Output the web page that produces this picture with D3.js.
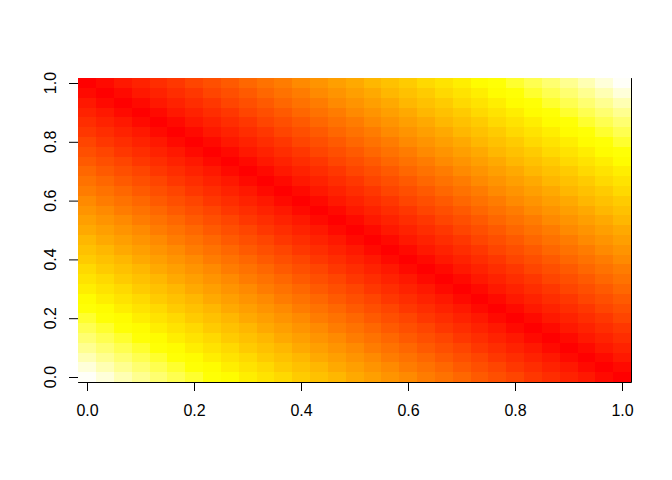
<!DOCTYPE html>
<html>
<head>
<meta charset="utf-8">
<script src="https://cdn.jsdelivr.net/npm/d3@7"></script>
<style>
html,body{margin:0;padding:0;background:#fff}
svg{display:block}
text{font-family:"Liberation Sans",Arial,sans-serif;fill:#000}
</style>
</head>
<body>
<script>
const xTicks = [0, 0.2, 0.4, 0.6, 0.8, 1];
const yTicks = [0, 0.2, 0.4, 0.6, 0.8, 1];
const gridCoords = [0,1,2,3,4,5,6,7,8,9,10,11,12,13,14,15,16,17,18,19,20,21,22,23,24,25,26,27,28,29,30];
const heatPalette = ["#FF0000","#FF0A00","#FF1800","#FF2200","#FF2D00","#FF3700","#FF4500","#FF4F00","#FF5A00","#FF6700","#FF7200","#FF7C00","#FF8A00","#FF9400","#FF9F00","#FFA900","#FFB700","#FFC100","#FFCB00","#FFD900","#FFE300","#FFEE00","#FFFC00","#FFFF05","#FFFF2E","#FFFF50","#FFFF70","#FFFF90","#FFFFB3","#FFFFD9","#FFFFF8"];
// colour level of each cell, listed from the top row down
const levelRows = [
[0,1,2,3,4,5,6,7,8,9,10,11,12,13,14,15,16,17,18,19,20,21,22,23,24,25,26,27,28,29,30],
[1,0,1,2,3,4,5,6,7,8,9,10,11,12,13,14,15,16,17,18,19,20,21,22,23,24,25,26,27,28,29],
[2,1,0,1,2,3,4,5,6,7,8,9,10,11,12,13,14,15,16,17,18,19,20,21,22,23,24,25,26,27,28],
[3,2,1,0,1,2,3,4,5,6,7,8,9,10,11,12,13,14,15,16,17,18,19,20,21,22,23,24,25,26,27],
[4,3,2,1,0,1,2,3,4,5,6,7,8,9,10,11,12,13,14,15,16,17,18,19,20,21,22,23,24,25,26],
[5,4,3,2,1,0,1,2,3,4,5,6,7,8,9,10,11,12,13,14,15,16,17,18,19,20,21,22,23,24,25],
[6,5,4,3,2,1,0,1,2,3,4,5,6,7,8,9,10,11,12,13,14,15,16,17,18,19,20,21,22,23,24],
[7,6,5,4,3,2,1,0,1,2,3,4,5,6,7,8,9,10,11,12,13,14,15,16,17,18,19,20,21,22,23],
[8,7,6,5,4,3,2,1,0,1,2,3,4,5,6,7,8,9,10,11,12,13,14,15,16,17,18,19,20,21,22],
[9,8,7,6,5,4,3,2,1,0,1,2,3,4,5,6,7,8,9,10,11,12,13,14,15,16,17,18,19,20,21],
[10,9,8,7,6,5,4,3,2,1,0,1,2,3,4,5,6,7,8,9,10,11,12,13,14,15,16,17,18,19,20],
[11,10,9,8,7,6,5,4,3,2,1,0,1,2,3,4,5,6,7,8,9,10,11,12,13,14,15,16,17,18,19],
[12,11,10,9,8,7,6,5,4,3,2,1,0,1,2,3,4,5,6,7,8,9,10,11,12,13,14,15,16,17,18],
[13,12,11,10,9,8,7,6,5,4,3,2,1,0,1,2,3,4,5,6,7,8,9,10,11,12,13,14,15,16,17],
[14,13,12,11,10,9,8,7,6,5,4,3,2,1,0,1,2,3,4,5,6,7,8,9,10,11,12,13,14,15,16],
[15,14,13,12,11,10,9,8,7,6,5,4,3,2,1,0,1,2,3,4,5,6,7,8,9,10,11,12,13,14,15],
[16,15,14,13,12,11,10,9,8,7,6,5,4,3,2,1,0,1,2,3,4,5,6,7,8,9,10,11,12,13,14],
[17,16,15,14,13,12,11,10,9,8,7,6,5,4,3,2,1,0,1,2,3,4,5,6,7,8,9,10,11,12,13],
[18,17,16,15,14,13,12,11,10,9,8,7,6,5,4,3,2,1,0,1,2,3,4,5,6,7,8,9,10,11,12],
[19,18,17,16,15,14,13,12,11,10,9,8,7,6,5,4,3,2,1,0,1,2,3,4,5,6,7,8,9,10,11],
[20,19,18,17,16,15,14,13,12,11,10,9,8,7,6,5,4,3,2,1,0,1,2,3,4,5,6,7,8,9,10],
[21,20,19,18,17,16,15,14,13,12,11,10,9,8,7,6,5,4,3,2,1,0,1,2,3,4,5,6,7,8,9],
[22,21,20,19,18,17,16,15,14,13,12,11,10,9,8,7,6,5,4,3,2,1,0,1,2,3,4,5,6,7,8],
[23,22,21,20,19,18,17,16,15,14,13,12,11,10,9,8,7,6,5,4,3,2,1,0,1,2,3,4,5,6,7],
[24,23,22,21,20,19,18,17,16,15,14,13,12,11,10,9,8,7,6,5,4,3,2,1,0,1,2,3,4,5,6],
[25,24,23,22,21,20,19,18,17,16,15,14,13,12,11,10,9,8,7,6,5,4,3,2,1,0,1,2,3,4,5],
[26,25,24,23,22,21,20,19,18,17,16,15,14,13,12,11,10,9,8,7,6,5,4,3,2,1,0,1,2,3,4],
[27,26,25,24,23,22,21,20,19,18,17,16,15,14,13,12,11,10,9,8,7,6,5,4,3,2,1,0,1,2,3],
[28,27,26,25,24,23,22,21,20,19,18,17,16,15,14,13,12,11,10,9,8,7,6,5,4,3,2,1,0,1,2],
[29,28,27,26,25,24,23,22,21,20,19,18,17,16,15,14,13,12,11,10,9,8,7,6,5,4,3,2,1,0,1],
[30,29,28,27,26,25,24,23,22,21,20,19,18,17,16,15,14,13,12,11,10,9,8,7,6,5,4,3,2,1,0]
];

const width = 672, height = 480;
const svg = d3.select("body").append("svg").attr("width", width).attr("height", height);
svg.append("rect").attr("width", width).attr("height", height).attr("fill", "#fff");

const x = d3.scaleLinear().domain([0, 1]).range([87, 622]);
const y = d3.scaleLinear().domain([0, 1]).range([377, 83]);
const colour = d3.scaleOrdinal().domain(d3.range(heatPalette.length)).range(heatPalette);

const step = 1 / (gridCoords.length - 1);
const cells = levelRows.flatMap((row, t) => row.map((level, i) => ({
  cx: gridCoords[i] * step,
  cy: gridCoords[gridCoords.length - 1 - t] * step,
  level
})));

svg.append("g").attr("shape-rendering", "crispEdges")
  .attr("transform", "translate(0.15,0.1)")
  .selectAll("rect").data(cells).join("rect")
  .attr("x", d => x(d.cx - step / 2))
  .attr("y", d => y(d.cy + step / 2))
  .attr("width", d => x(d.cx + step / 2) - x(d.cx - step / 2))
  .attr("height", d => y(d.cy - step / 2) - y(d.cy + step / 2))
  .attr("fill", d => colour(d.level));

const fontSize = 16;
const gx = svg.append("g").attr("transform", "translate(0,382)")
  .call(d3.axisBottom(x).tickValues(xTicks).tickFormat(d3.format(".1f")).tickSize(9).tickSizeOuter(0));
gx.select(".domain").remove();
gx.selectAll("text").attr("font-size", fontSize).attr("font-family", null).attr("dy", null).attr("y", 34);
gx.selectAll("line").attr("stroke", "#000");

const gy = svg.append("g").attr("transform", "translate(78,0)")
  .call(d3.axisLeft(y).tickValues(yTicks).tickFormat(d3.format(".1f")).tickSize(9).tickSizeOuter(0));
gy.select(".domain").remove();
gy.selectAll("text")
  .attr("font-size", fontSize).attr("font-family", null)
  .attr("dy", null).attr("x", null).attr("y", null)
  .attr("text-anchor", "middle")
  .attr("transform", "translate(-22,-0.5) rotate(-90)");
gy.selectAll("line").attr("stroke", "#000");

// box: only the bottom and right edges show in the picture
const left = x(-step / 2), right = x(1 + step / 2), top_ = y(1 + step / 2), bottom = y(-step / 2);
svg.append("path")
  .attr("d", d3.line()([[left, Math.round(bottom) + 0.5], [Math.round(right) + 0.5, Math.round(bottom) + 0.5], [Math.round(right) + 0.5, top_]]))
  .attr("fill", "none").attr("stroke", "#000").attr("stroke-width", 1);
</script>
</body>
</html>
